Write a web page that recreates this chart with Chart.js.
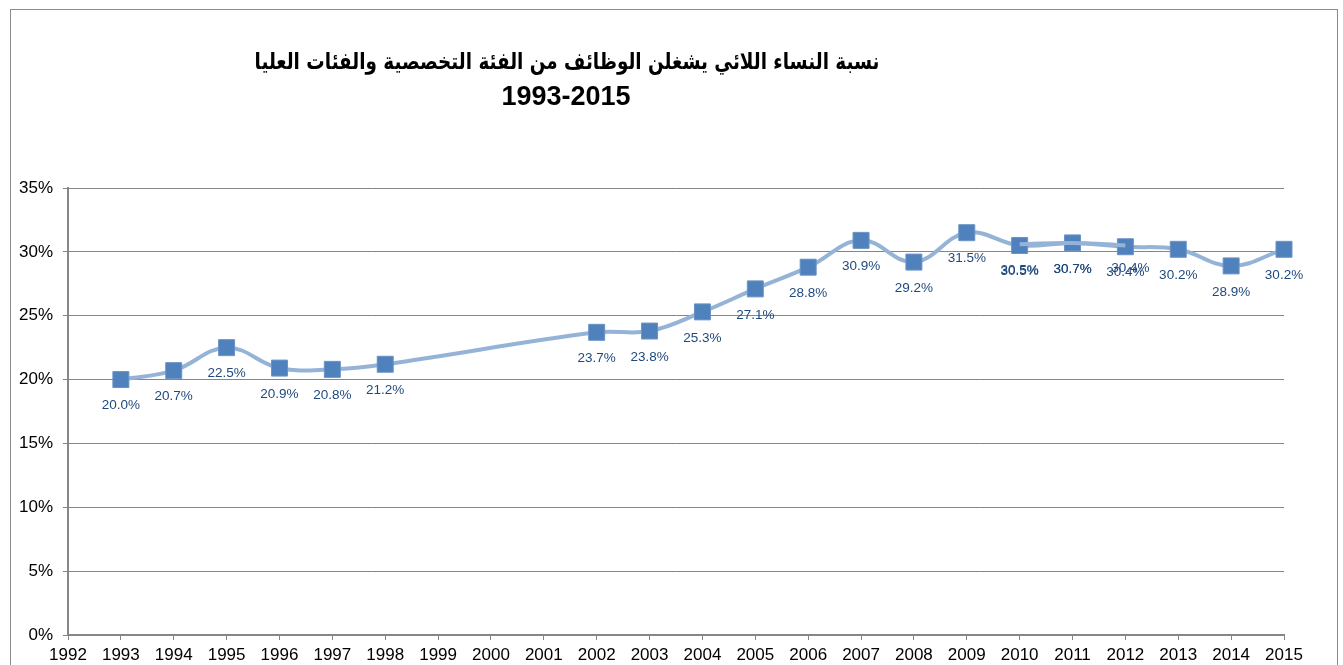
<!DOCTYPE html>
<html>
<head>
<meta charset="utf-8">
<script src="https://cdn.jsdelivr.net/npm/chart.js@4.4.1/dist/chart.umd.min.js"></script>
<style>
  html, body { margin: 0; padding: 0; background: #fff; }
  .wrap-chart { position: relative; width: 1343px; height: 665px; }
  .frame { position: absolute; left: 10px; top: 9px; width: 1328px; height: 700px; border: 1px solid #8c8c8c; box-sizing: border-box; }
</style>
</head>
<body>
<div class="wrap-chart">
  <div class="frame"></div>
  <canvas width="1343" height="665"></canvas>
</div>
<script>
const titleLines = ['نسبة النساء اللائي يشغلن الوظائف من الفئة التخصصية والفئات العليا', '1993-2015'];
const years = [1993, 1994, 1995, 1996, 1997, 1998, 2002, 2003, 2004, 2005, 2006, 2007, 2008, 2009, 2010, 2011, 2012, 2013, 2014, 2015];
const shares = [20.0, 20.7, 22.5, 20.9, 20.8, 21.2, 23.7, 23.8, 25.3, 27.1, 28.8, 30.9, 29.2, 31.5, 30.5, 30.7, 30.4, 30.2, 28.9, 30.2];
// second overlapping series seen in the picture for 2010-2012
const overlapYears = [2010, 2011, 2012];
const overlapShares = [30.6, 30.7, 30.5];
const overlapLabels = ['30.5%', '30.7%', '30.4%'];
const tickYears = [1992, 1993, 1994, 1995, 1996, 1997, 1998, 1999, 2000, 2001, 2002, 2003, 2004, 2005, 2006, 2007, 2008, 2009, 2010, 2011, 2012, 2013, 2014, 2015];
const yTicks = [0, 5, 10, 15, 20, 25, 30, 35];

const toPoints = (xs, ys) => xs.map((x, i) => ({x: x, y: ys[i]}));

// labels under each point
const pointLabels = {
    id: 'pointLabels',
    afterDatasetsDraw(chart) {
        const ctx = chart.ctx;
        ctx.save();
        ctx.font = '13.5px "Liberation Sans", Arial, sans-serif';
        ctx.fillStyle = '#1F497D';
        ctx.textAlign = 'center';
        ctx.textBaseline = 'middle';
        chart.data.datasets.forEach((ds, di) => {
            chart.getDatasetMeta(di).data.forEach((pt, i) => {
                let txt = ds.labels ? ds.labels[i] : ds.data[i].y.toFixed(1) + '%';
                let dx = ds.labelDx ? ds.labelDx[i] : 0;
                let dy = ds.labelDy ? ds.labelDy[i] : 0;
                ctx.fillText(txt, pt.x + dx, pt.y + 26 + dy);
            });
        });
        ctx.restore();
    }
};

const chartTitle = {
    id: 'chartTitle',
    afterDraw(chart) {
        const ctx = chart.ctx;
        ctx.save();
        ctx.fillStyle = '#000';
        ctx.textAlign = 'center';
        ctx.textBaseline = 'middle';
        ctx.font = 'bold 23px "DejaVu Sans", "Liberation Sans", Arial, sans-serif';
        // squeeze the first line to the width it has in the original
        let w = ctx.measureText(titleLines[0]).width;
        let sx = Math.min(1, 625 / w);
        ctx.save();
        ctx.translate(567, 63);
        ctx.scale(sx, 1);
        ctx.fillText(titleLines[0], 0, 0);
        ctx.restore();
        ctx.font = 'bold 27px "Liberation Sans", Arial, sans-serif';
        ctx.fillText(titleLines[1], 566, 98);
        ctx.restore();
    }
};

const ctx = document.querySelector('.wrap-chart canvas').getContext('2d');
const chart = new Chart(ctx, {
    type: 'line',
    data: {
        datasets: [{
            data: toPoints(overlapYears, overlapShares),
            labels: overlapLabels,
            labelDx: [0, 0, 5],
            labelDy: [0, 0, -3],
            borderColor: '#95B3D7',
            borderWidth: 4,
            tension: 0.4,
            pointRadius: 0,
            clip: false,
            backgroundColor: 'transparent'
        }, {
            data: toPoints(years, shares),
            borderColor: '#95B3D7',
            borderWidth: 4,
            tension: 0.4,
            pointStyle: 'rect',
            pointRadius: 11.3,
            pointBackgroundColor: '#4F81BD',
            pointBorderColor: '#6A93C6',
            pointBorderWidth: 1,
            clip: false,
            backgroundColor: 'transparent'
        }]
    },
    options: {
        responsive: false,
        animation: false,
        layout: { padding: { left: 0, top: 188, right: 59, bottom: 0 } },
        plugins: { legend: { display: false }, tooltip: { enabled: false } },
        scales: {
            x: {
                type: 'linear',
                min: 1992,
                max: 2015,
                afterFit(scale) { scale.height = 30; },
                afterBuildTicks(scale) { scale.ticks = tickYears.map(v => ({value: v})); },
                ticks: {
                    color: '#000',
                    font: { family: '"Liberation Sans", Arial, sans-serif', size: 17 },
                    padding: 5,
                    maxRotation: 0,
                    autoSkip: false,
                    callback: v => String(v)
                },
                grid: { drawOnChartArea: false, drawTicks: true, tickLength: 5, color: '#868686' },
                border: { color: '#868686', width: 2 }
            },
            y: {
                min: 0,
                max: 35,
                afterFit(scale) { scale.width = 68; },
                afterBuildTicks(scale) { scale.ticks = yTicks.map(v => ({value: v})); },
                ticks: {
                    color: '#000',
                    font: { family: '"Liberation Sans", Arial, sans-serif', size: 17 },
                    padding: 10,
                    callback: v => v + '%'
                },
                grid: { color: '#868686', lineWidth: 1, tickLength: 5 },
                border: { color: '#868686', width: 2 }
            }
        }
    },
    plugins: [pointLabels, chartTitle]
});
</script>
</body>
</html>
